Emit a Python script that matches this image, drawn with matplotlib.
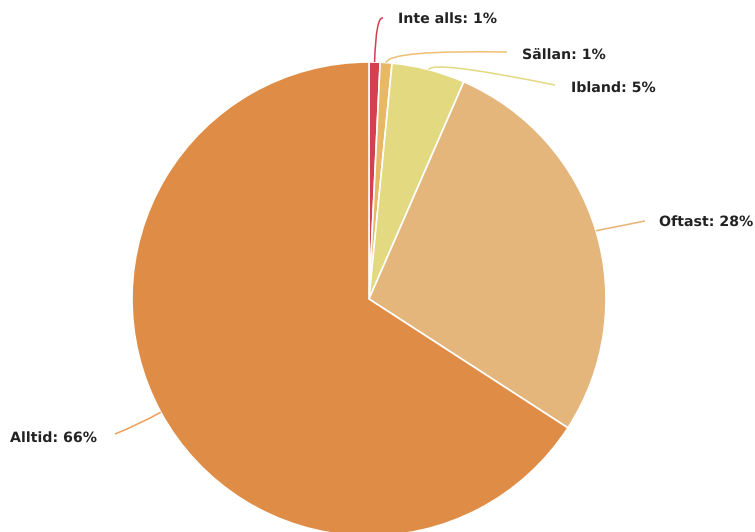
import numpy as np
import matplotlib.pyplot as plt
import matplotlib.patheffects as pe
from matplotlib.path import Path
from matplotlib.patches import PathPatch

# 数据
labels = ['Inte alls', 'Sällan', 'Ibland', 'Oftast', 'Alltid']
values = [0.75, 0.8, 5.0, 27.6, 65.85]
shown = ['1%', '1%', '5%', '28%', '66%']
colors = ['#d3404f', '#e9b864', '#e2d980', '#e4b67c', '#df8c46']
line_colors = ['#d3404f', '#eebf73', '#e2d980', '#e9b373', '#ee9e5a']

# 版面 (像素坐标, y 向上)
W, H = 755, 532
cx, cy, r = 369, 233, 237
# 标签位置 (文字左端 x, 中心 y), 折点
label_pos = [(398, 513), (522, 477), (571, 444), (659, 310), (10, 94)]
corner = [(376, 516), (389, 482), (432, 472), (620, 306), (140, 108)]
line_end = [(383, 514), (507, 480), (555, 447), (645, 311), (115, 98)]

fig = plt.figure(figsize=(W / 100, H / 100), dpi=100)
ax = fig.add_axes([0, 0, 1, 1])
ax.set_xlim(0, W)
ax.set_ylim(0, H)
ax.set_aspect('equal')
ax.axis('off')

wedges, _ = ax.pie(values, colors=colors, startangle=90, counterclock=False,
                   center=(cx, cy), radius=r,
                   wedgeprops=dict(edgecolor='white', linewidth=1.2))
ax.set_xlim(0, W)
ax.set_ylim(0, H)

total = sum(values)
cum = 0
for i, v in enumerate(values):
    mid = (cum + v / 2) / total * 2 * np.pi
    cum += v
    x0 = cx + r * np.sin(mid)
    y0 = cy + r * np.cos(mid)
    verts = [(x0, y0), corner[i], line_end[i]]
    path = Path(verts, [Path.MOVETO, Path.CURVE3, Path.CURVE3])
    ax.add_patch(PathPatch(path, fill=False, edgecolor=line_colors[i], linewidth=1.1))
    ax.text(label_pos[i][0], label_pos[i][1], f'{labels[i]}: {shown[i]}',
            ha='left', va='center', fontsize=10.2, fontweight='bold', color='#222222',
            path_effects=[pe.withStroke(linewidth=2, foreground='white')])

fig.savefig('out.png', dpi=100)
